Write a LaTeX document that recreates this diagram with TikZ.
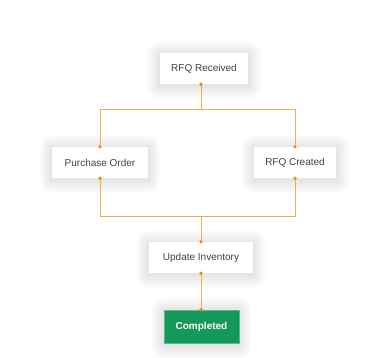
\documentclass[tikz,border=0pt]{standalone}
\usepackage{fontspec}
\setmainfont{Liberation Sans}
\usetikzlibrary{backgrounds}
\definecolor{linec}{HTML}{F2AE4A}
\definecolor{dotc}{HTML}{E8891A}
\definecolor{txt}{HTML}{3F414C}
\definecolor{greenc}{HTML}{14995A}
\tikzset{
  x=1pt,y=-1pt,
  card/.style={fill=white, draw=none, minimum height=31pt, inner sep=0pt,
    font=\fontsize{10}{12}\selectfont, text=txt},
  donebox/.style={fill=greenc, draw=greenc!70!white, line width=0.6pt, minimum height=33pt, minimum width=75pt, inner sep=0pt,
    font=\fontsize{10}{12}\selectfont\bfseries, text=white},
  conn/.style={draw=linec, line width=0.9pt},
  pin/.style={fill=dotc, draw=none},
  softshadow/.style={fill=black, opacity=0.006},
}
\newcommand{\mkshadow}[1]{%
  \foreach \r in {1,...,13}{%
    \fill[softshadow, rounded corners=\r pt]
      ([shift={(-\r pt,\r pt-1pt)}]#1.north west) rectangle ([shift={(\r pt,-\r pt-2pt)}]#1.south east);
  }}
\begin{document}
\begin{tikzpicture}
\useasboundingbox (0,0) rectangle (381,357);
\node[card, minimum width=88pt] (rfq) at (204,68.5) {RFQ Received};
\node[card, minimum width=96pt] (po) at (100,162.5) {Purchase Order};
\node[card, minimum width=82pt] (rc) at (295,162.5) {RFQ Created};
\node[card, minimum width=104pt] (ui) at (201,257.5) {Update Inventory};
\node[donebox] (done) at (201.5,326.5) {Completed};
\begin{scope}[on background layer]
  \fill[white] (0,0) rectangle (381,357);
  \mkshadow{rfq}\mkshadow{po}\mkshadow{rc}\mkshadow{ui}\mkshadow{done}
\end{scope}
\coordinate (j1) at (201,109);
\coordinate (j2) at (201,216);
\draw[conn] (rfq.south -| j1) -- (j1);
\draw[conn] (j1) -| (po.north);
\draw[conn] (j1) -| (rc.north);
\draw[conn] (po.south) |- (j2);
\draw[conn] (rc.south) |- (j2);
\draw[conn] (j2) -- (ui.north -| j2);
\draw[conn] (ui.south -| j2) -- (done.north -| j2);
\foreach \p in {(rfq.south -| j1),(po.north),(rc.north),(po.south),(rc.south),(ui.north -| j2),(ui.south -| j2),(done.north -| j2)}
  \fill[pin] \p circle (1.8pt);
\end{tikzpicture}
\end{document}
